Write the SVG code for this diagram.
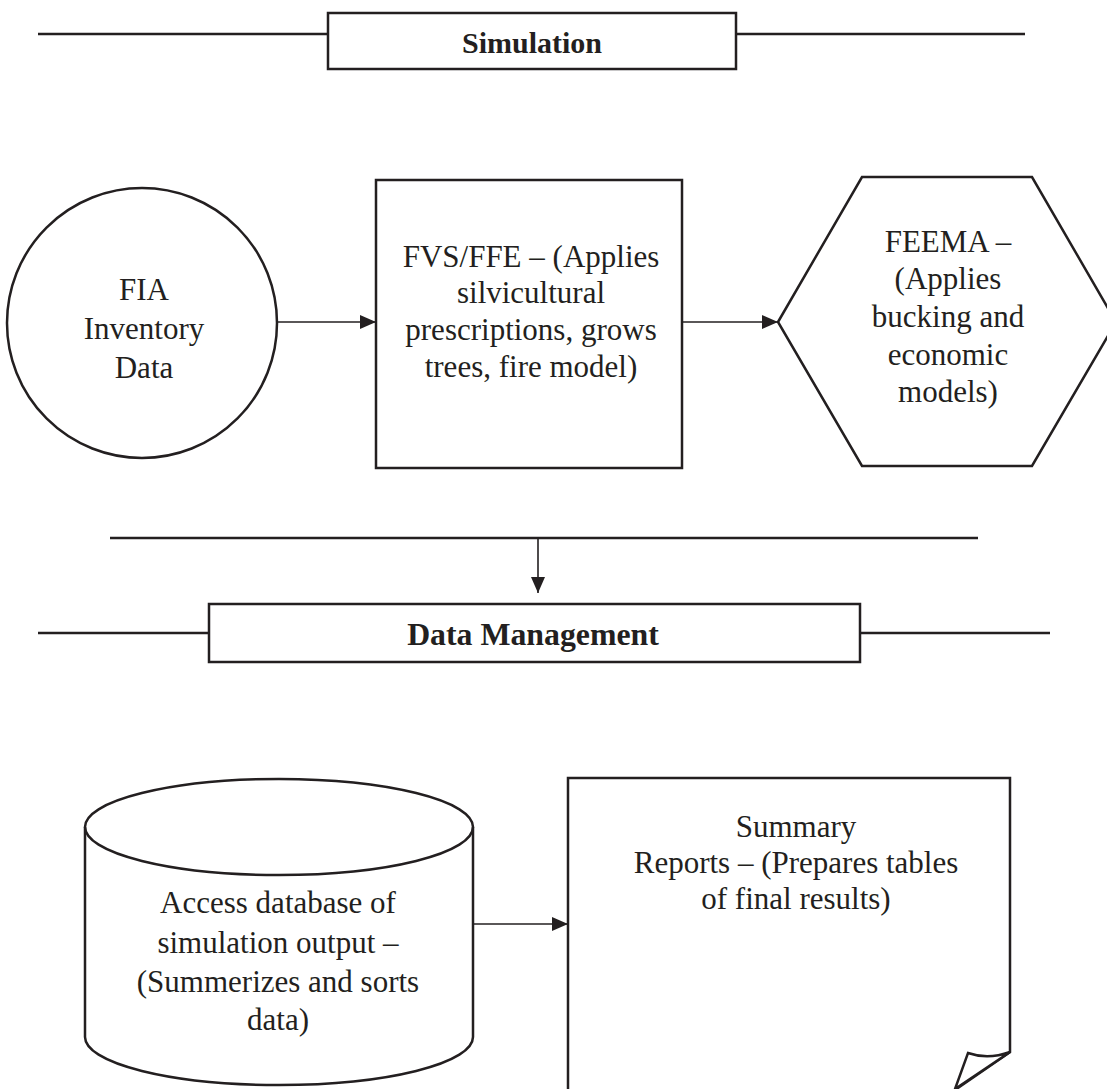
<svg xmlns="http://www.w3.org/2000/svg" width="1107" height="1089" viewBox="0 0 1107 1089">
<defs>
<style>
.s{fill:#fff;stroke:#231f20;stroke-width:2.5}
.l{fill:none;stroke:#231f20;stroke-width:2.5}
.c{fill:none;stroke:#231f20;stroke-width:1.6}
.t{font-family:"Liberation Serif","Times New Roman",serif;font-size:31px;fill:#231f20;text-anchor:middle}
.b{font-family:"Liberation Serif","Times New Roman",serif;font-weight:bold;fill:#231f20;text-anchor:middle}
</style>
<marker id="ah" viewBox="0 0 16 14" refX="16" refY="7" markerWidth="16" markerHeight="14" markerUnits="userSpaceOnUse" orient="auto">
<path d="M0,0 L16,7 L0,14 Z" fill="#231f20"/>
</marker>
</defs>
<rect width="1107" height="1089" fill="#fff"/>
<g id="simulation-header">
<line class="l" x1="38" y1="34" x2="328" y2="34"/>
<line class="l" x1="736" y1="34" x2="1025" y2="34"/>
<rect class="s" x="328" y="13" width="408" height="56"/>
<text class="b" x="532" y="53" font-size="30">Simulation</text>
</g>
<g id="fia">
<circle class="s" cx="142" cy="323" r="135"/>
<text class="t"><tspan x="144" y="300">FIA</tspan><tspan x="144" y="339">Inventory</tspan><tspan x="144" y="378">Data</tspan></text>
</g>
<g id="fvs">
<rect class="s" x="376" y="180" width="306" height="288"/>
<text class="t" font-size="30.5"><tspan x="531" y="267">FVS/FFE – (Applies</tspan><tspan x="531" y="303">silvicultural</tspan><tspan x="531" y="340">prescriptions, grows</tspan><tspan x="531" y="377">trees, fire model)</tspan></text>
</g>
<g id="feema">
<polygon class="s" points="778,322 862,177 1032,177 1116,322 1032,466 862,466"/>
<text class="t" font-size="32.5"><tspan x="948" y="252">FEEMA –</tspan><tspan x="948" y="289">(Applies</tspan><tspan x="948" y="327">bucking and</tspan><tspan x="948" y="365">economic</tspan><tspan x="948" y="402">models)</tspan></text>
</g>
<g id="divider">
<line class="l" x1="110" y1="538" x2="978" y2="538"/>
</g>
<g id="data-management-header">
<line class="l" x1="38" y1="633" x2="209" y2="633"/>
<line class="l" x1="860" y1="633" x2="1050" y2="633"/>
<rect class="s" x="209" y="604" width="651" height="58"/>
<text class="b" x="533" y="645" font-size="31.8">Data Management</text>
</g>
<g id="access-db">
<path class="s" d="M85,827 L85,1037 A194,48 0 0 0 473,1037 L473,827 A194,48 0 0 0 85,827 Z"/>
<path class="l" d="M85,827 A194,48 0 0 0 473,827"/>
<text class="t" font-size="32"><tspan x="278" y="913">Access database of</tspan><tspan x="278" y="953">simulation output –</tspan><tspan x="278" y="992">(Summerizes and sorts</tspan><tspan x="278" y="1030">data)</tspan></text>
</g>
<g id="summary-reports">
<path class="s" d="M568,1095 L568,778 L1010,778 L1010,1052 L955,1090 L955,1095 Z"/>
<path class="s" d="M1010,1052 Q988,1060 968,1053 L955,1089 Z"/>
<text class="t" font-size="31.8"><tspan x="796" y="837">Summary</tspan><tspan x="796" y="873">Reports – (Prepares tables</tspan><tspan x="796" y="909">of final results)</tspan></text>
</g>
<g id="connectors">
<line class="c" x1="277" y1="322" x2="376" y2="322" marker-end="url(#ah)"/>
<line class="c" x1="682" y1="322" x2="778" y2="322" marker-end="url(#ah)"/>
<line class="c" x1="538" y1="538" x2="538" y2="593" marker-end="url(#ah)"/>
<line class="c" x1="473" y1="924" x2="568" y2="924" marker-end="url(#ah)"/>
</g>
</svg>
